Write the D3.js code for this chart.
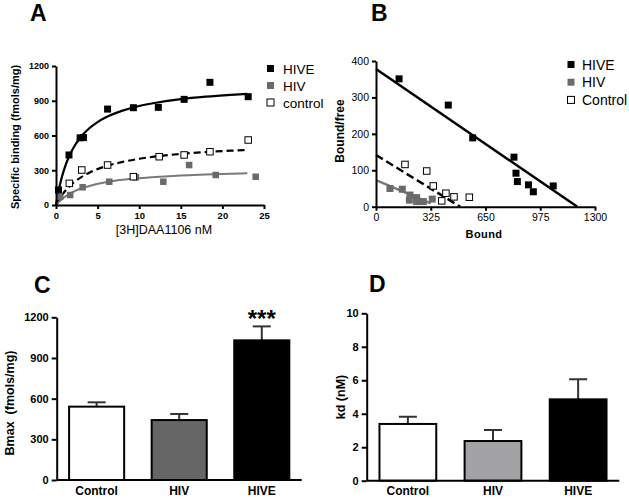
<!DOCTYPE html>
<html><head><meta charset="utf-8">
<script src="https://cdn.jsdelivr.net/npm/d3@7"></script>
<style>body{margin:0;background:#fff}svg{display:block;font-family:Arial,'Liberation Sans',sans-serif}</style>
</head><body><svg id="c" width="629" height="501"></svg>
<script>
// ---------- Panel A data: saturation binding ----------
const aHiveX = [0.3,1.56,2.9,3.3,6.2,9.3,12.3,15.4,18.5,23.1];
const aHiveY = [130,432,580,582,828,840,843,912,1059,935];
const aHivX  = [0.5,1.7,3.2,6.4,9.6,12.9,16.0,19.2,24.0];
const aHivY  = [72,86,153,201,239,201,345,259,244];
const aCtrlX = [1.6,3.1,6.2,9.3,12.4,15.4,18.5,23.1];
const aCtrlY = [187,302,345,244,417,432,460,561];
// fitted curves
const aHiveCurveX = [0,0.5,1,1.5,2,3,4,5,6,8,10,12,15,18,21,23];
const aHiveCurveY = [0,183,312,408,482,589,663,716,757,815,855,883,914,935,951,960];
const aCurveX     = [0,1,2,3,4,6,8,10,12,15,18,21,23];
const aCtrlCurveY = [0,112,186,239,279,335,372,399,419,441,457,469,475];
const aHivCurveY  = [0,67,111,142,164,196,217,231,242,255,263,270,274];
const aXTicks = [0,5,10,15,20,25];
const aYTicks = [0,300,600,900,1200];
const aLegend = ["HIVE","HIV","control"];

// ---------- Panel B data: Scatchard ----------
const bHiveX = [137,429,574,819,831,839,905,934,1052];
const bHiveY = [351,279,189,136,92,69,60,41,57];
const bHivX  = [83,156,202,198,241,241,281,334];
const bHivY  = [50,48,32,18,25,14,14,21];
const bCtrlX = [172,301,340,390,415,463,554];
const bCtrlY = [116,98,57,16,37,27,26];
const bHiveLineX = [0,1195], bHiveLineY = [378,0];
const bCtrlLineX = [0,500],  bCtrlLineY = [142,0];
const bHivLineX  = [0,325],  bHivLineY  = [73,9];
const bXTicks = [0,325,650,975,1300];
const bYTicks = [0,100,200,300,400];
const bLegend = ["HIVE","HIV","Control"];

// ---------- Panel C / D data ----------
const groups = ["Control","HIV","HIVE"];
const bmax    = [541,442,1030];
const bmaxErr = [32,45,103];
const kd      = [3.39,2.37,4.86];
const kdErr   = [0.43,0.66,1.2];
const cYTicks = [0,300,600,900,1200];
const dYTicks = [0,2,4,6,8,10];

const svg = d3.select("#c");
const GRAY = "#6a6a6a";
const fmt = d3.format("d");

function panelLabel(t,x,y){
  svg.append("text").attr("x",x).attr("y",y).attr("font-size",23).attr("font-weight","bold").attr("fill","#000").text(t);
}
function styleAxis(g,w,fs,bold){
  g.select(".domain").attr("stroke","#000").attr("stroke-width",w);
  g.selectAll(".tick line").attr("stroke","#000").attr("stroke-width",w);
  g.selectAll(".tick text").attr("font-size",fs).attr("font-weight",bold?"bold":"normal").attr("fill","#000")
   .attr("font-family","Arial,'Liberation Sans',sans-serif");
}
function squares(g,xs,ys,x,y,fill,stroke,size){
  g.selectAll(null).data(xs).enter().append("rect")
   .attr("x",(d,i)=>x(d)-size/2).attr("y",(d,i)=>y(ys[i])-size/2)
   .attr("width",size).attr("height",size)
   .attr("fill",fill).attr("stroke",stroke).attr("stroke-width",stroke==="none"?0:1);
}

// ===== Panel A =====
panelLabel("A",30,21);
{
  const x = d3.scaleLinear().domain([0,25]).range([56,264]);
  const y = d3.scaleLinear().domain([0,1200]).range([205,66]);
  const g = svg.append("g");
  const line = d3.line().curve(d3.curveMonotoneX);
  g.append("path").attr("d",line(aHiveCurveX.map((d,i)=>[x(d),y(aHiveCurveY[i])]))).attr("fill","none").attr("stroke","#000").attr("stroke-width",2.2);
  g.append("path").attr("d",line(aCurveX.map((d,i)=>[x(d),y(aCtrlCurveY[i])]))).attr("fill","none").attr("stroke","#000").attr("stroke-width",2.2).attr("stroke-dasharray","7,4");
  g.append("path").attr("d",line(aCurveX.map((d,i)=>[x(d),y(aHivCurveY[i])]))).attr("fill","none").attr("stroke","#7a7a7a").attr("stroke-width",2);
  squares(g,aHivX,aHivY,x,y,GRAY,"none",6.5);
  squares(g,aCtrlX,aCtrlY,x,y,"#fff","#000",6.5);
  squares(g,aHiveX,aHiveY,x,y,"#000","none",7);
  const xa = svg.append("g").attr("transform","translate(0,205)").call(d3.axisBottom(x).tickValues(aXTicks).tickFormat(fmt).tickSize(4).tickSizeOuter(0));
  styleAxis(xa,2,9.5,true);
  const ya = svg.append("g").attr("transform","translate(56,0)").call(d3.axisLeft(y).tickValues(aYTicks).tickFormat(fmt).tickSize(4).tickSizeOuter(0));
  styleAxis(ya,2,9,true);
  svg.append("text").attr("transform","translate(19,137) rotate(-90)").attr("text-anchor","middle").attr("font-size",11).attr("font-weight","bold").text("Specific binding (fmols/mg)");
  svg.append("text").attr("x",164).attr("y",234).attr("text-anchor","middle").attr("font-size",12.5).text("[3H]DAA1106 nM");
  const lg = svg.append("g");
  const fills=["#000",GRAY,"#fff"], strokes=["none","none","#000"];
  aLegend.forEach((t,i)=>{
    const cy = 68.5 + i*17;
    lg.append("rect").attr("x",267).attr("y",cy-3.5).attr("width",7).attr("height",7).attr("fill",fills[i]).attr("stroke",strokes[i]).attr("stroke-width",strokes[i]==="none"?0:1);
    lg.append("text").attr("x",283).attr("y",cy+5).attr("font-size",13.5).text(t);
  });
}

// ===== Panel B =====
panelLabel("B",371,21);
{
  const x = d3.scaleLinear().domain([0,1300]).range([376,595]);
  const y = d3.scaleLinear().domain([0,400]).range([206.7,61]);
  const g = svg.append("g");
  const line = d3.line();
  g.append("path").attr("d",line(bHiveLineX.map((d,i)=>[x(d),y(bHiveLineY[i])]))).attr("fill","none").attr("stroke","#000").attr("stroke-width",2.5);
  g.append("path").attr("d",line(bCtrlLineX.map((d,i)=>[x(d),y(bCtrlLineY[i])]))).attr("fill","none").attr("stroke","#000").attr("stroke-width",2.5).attr("stroke-dasharray","8,4");
  g.append("path").attr("d",line(bHivLineX.map((d,i)=>[x(d),y(bHivLineY[i])]))).attr("fill","none").attr("stroke","#7a7a7a").attr("stroke-width",2.5);
  squares(g,bHivX,bHivY,x,y,GRAY,"none",7);
  squares(g,bCtrlX,bCtrlY,x,y,"#fff","#000",6.5);
  squares(g,bHiveX,bHiveY,x,y,"#000","none",7);
  const xa = svg.append("g").attr("transform","translate(0,206.7)").call(d3.axisBottom(x).tickValues(bXTicks).tickFormat(fmt).tickSize(4).tickSizeOuter(0));
  styleAxis(xa,2,10.5,false);
  const ya = svg.append("g").attr("transform","translate(376,0)").call(d3.axisLeft(y).tickValues(bYTicks).tickFormat(fmt).tickSize(4).tickSizeOuter(0));
  styleAxis(ya,2,10.5,false);
  svg.append("text").attr("transform","translate(344,131) rotate(-90)").attr("text-anchor","middle").attr("font-size",12).attr("font-weight","bold").text("Bound/free");
  svg.append("text").attr("x",484).attr("y",238).attr("text-anchor","middle").attr("font-size",11).attr("font-weight","bold").attr("letter-spacing",0.4).text("Bound");
  const fills=["#000",GRAY,"#fff"], strokes=["none","none","#000"];
  bLegend.forEach((t,i)=>{
    const cy = 64.5 + i*17.7;
    svg.append("rect").attr("x",567.5).attr("y",cy-3.5).attr("width",7).attr("height",7).attr("fill",fills[i]).attr("stroke",strokes[i]).attr("stroke-width",strokes[i]==="none"?0:1);
    svg.append("text").attr("x",582).attr("y",cy+5).attr("font-size",14).text(t);
  });
}

// ===== Bar panels =====
function barPanel(opt){
  const x = d3.scaleBand().domain(groups).range(opt.xr).paddingInner(0.333).paddingOuter(0.15);
  const y = d3.scaleLinear().domain(opt.dom).range(opt.yr);
  const g = svg.append("g");
  g.selectAll(null).data(groups).enter().append("line")
   .attr("x1",d=>x(d)+x.bandwidth()/2).attr("x2",d=>x(d)+x.bandwidth()/2)
   .attr("y1",(d,i)=>y(opt.vals[i])).attr("y2",(d,i)=>y(opt.vals[i]+opt.errs[i]))
   .attr("stroke","#333").attr("stroke-width",2);
  g.selectAll(null).data(groups).enter().append("line")
   .attr("x1",d=>x(d)+x.bandwidth()/2-9).attr("x2",d=>x(d)+x.bandwidth()/2+9)
   .attr("y1",(d,i)=>y(opt.vals[i]+opt.errs[i])).attr("y2",(d,i)=>y(opt.vals[i]+opt.errs[i]))
   .attr("stroke","#333").attr("stroke-width",2);
  g.selectAll(null).data(groups).enter().append("rect")
   .attr("x",d=>x(d)).attr("width",x.bandwidth())
   .attr("y",(d,i)=>y(opt.vals[i])).attr("height",(d,i)=>opt.yr[0]-y(opt.vals[i]))
   .attr("fill",(d,i)=>opt.colors[i]).attr("stroke","#000").attr("stroke-width",2);
  const xa = svg.append("g").attr("transform",`translate(0,${opt.yr[0]})`).call(d3.axisBottom(x).tickSize(0).tickPadding(6));
  styleAxis(xa,2,12,true);
  xa.select(".domain").attr("d",`M${opt.xr[0]},0H${opt.xr[1]}`);
  const ya = svg.append("g").attr("transform",`translate(${opt.xr[0]},0)`).call(d3.axisLeft(y).tickValues(opt.ticks).tickFormat(fmt).tickSize(5).tickSizeOuter(0));
  styleAxis(ya,2,11,true);
  svg.append("text").attr("transform",`translate(${opt.ylx},${opt.yly}) rotate(-90)`).attr("text-anchor","middle").attr("font-size",opt.ylfs).attr("font-weight","bold").attr("xml:space","preserve").text(opt.ylabel);
  return {x,y};
}

panelLabel("C",34,293);
{
  const s = barPanel({xr:[56.7,301.7],yr:[480,317.3],dom:[0,1200],vals:bmax,errs:bmaxErr,
    colors:["#fff","#666","#000"],ticks:cYTicks,ylabel:"Bmax  (fmols/mg)",ylx:14,yly:403,ylfs:12.5});
  svg.append("text").attr("x",s.x("HIVE")+s.x.bandwidth()/2).attr("y",327).attr("text-anchor","middle").attr("font-size",24).attr("font-weight","bold").text("***");
}
panelLabel("D",369,292);
{
  barPanel({xr:[366.7,619.3],yr:[480.7,313.3],dom:[0,10],vals:kd,errs:kdErr,
    colors:["#fff","#a3a3a6","#000"],ticks:dYTicks,ylabel:"kd (nM)",ylx:345,yly:397,ylfs:12.5});
}
</script></body></html>
